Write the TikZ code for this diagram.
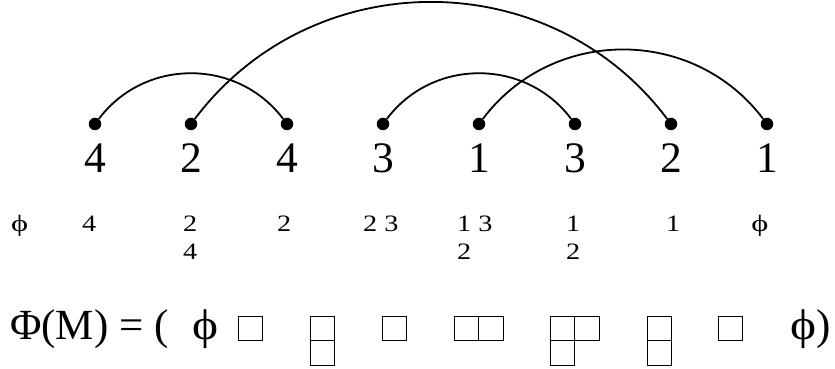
\documentclass[tikz,border=0pt]{standalone}
\usepackage{fontspec}
\usepackage{graphicx}
\setmainfont{Liberation Serif}
\usetikzlibrary{positioning}

\newcommand{\emptyphi}{\scalebox{1.15}[1]{ϕ}}

\begin{document}
\begin{tikzpicture}[x=1pt,y=1pt,node distance=96pt,
    dot/.style={circle,fill,inner sep=0pt,minimum size=12.5pt},
    big/.style={font=\fontsize{43.5}{52}\selectfont,inner sep=0pt},
    small/.style={font=\fontsize{23.5}{28}\selectfont,inner sep=0pt,anchor=base west,
                  xscale=1.2,transform shape},
    eq/.style={font=\fontsize{43}{50}\selectfont,inner sep=0pt,anchor=base west},
    link/.style={line width=1.8pt,out=53,in=127,looseness=1.06},
    cell/.style={line width=1pt}]

\useasboundingbox (0,0) rectangle (835,369);

% the word
\node[dot] (1) at (95,245) {};
\node[dot] (2) [right of = 1] {};
\node[dot] (3) [right of = 2] {};
\node[dot] (4) [right of = 3] {};
\node[dot] (5) [right of = 4] {};
\node[dot] (6) [right of = 5] {};
\node[dot] (7) [right of = 6] {};
\node[dot] (8) [right of = 7] {};

\node[big] (a1) [below of = 1, node distance=34pt] {4};
\node[big] (a2) [below of = 2, node distance=34pt] {2};
\node[big] (a3) [below of = 3, node distance=34pt] {4};
\node[big] (a4) [below of = 4, node distance=34pt] {3};
\node[big] (a5) [below of = 5, node distance=34pt] {1};
\node[big] (a6) [below of = 6, node distance=34pt] {3};
\node[big] (a7) [below of = 7, node distance=34pt] {2};
\node[big] (a8) [below of = 8, node distance=34pt] {1};

% arcs
\path
(1) edge[link] (3)
(2) edge[link] (7)
(4) edge[link] (6)
(5) edge[link] (8)
;

% sets between the letters
\node[small] (s0) at (11,137) {\emptyphi};
\node[small] (s1) at (82,137) {4};
\node[small] (s2) at (183,137) {2};
\node[small] (s2b) at ([yshift=-28pt]s2.base west) {4};
\node[small] (s3) at (277,137) {2};
\node[small] (s4) at (363,137) {2 3};
\node[small] (s5) at (457,137) {1 3};
\node[small] (s5b) at ([yshift=-28pt]s5.base west) {2};
\node[small] (s6) at (566,137) {1};
\node[small] (s6b) at ([yshift=-28pt]s6.base west) {2};
\node[small] (s7) at (666,137) {1};
\node[small] (s8) at (751,137) {\emptyphi};

% tableaux
\node[eq] (lhs) at (10,29) {Φ(M) = (};
\node[eq] (e0) at (192,29) {\emptyphi};
\foreach \x/\y in {238/28, 310/28, 310/3.5, 382/28, 454/28, 478.5/28,
                   550/28, 574.5/28, 550/3.5, 647/28, 647/3.5, 718/28}
  \draw[cell] (\x,\y) rectangle ++(24.5,24.5);
\node[eq] (e8) at (790,29) {\emptyphi};
\node[eq] (rp) at (816,29) {)};

\end{tikzpicture}
\end{document}
